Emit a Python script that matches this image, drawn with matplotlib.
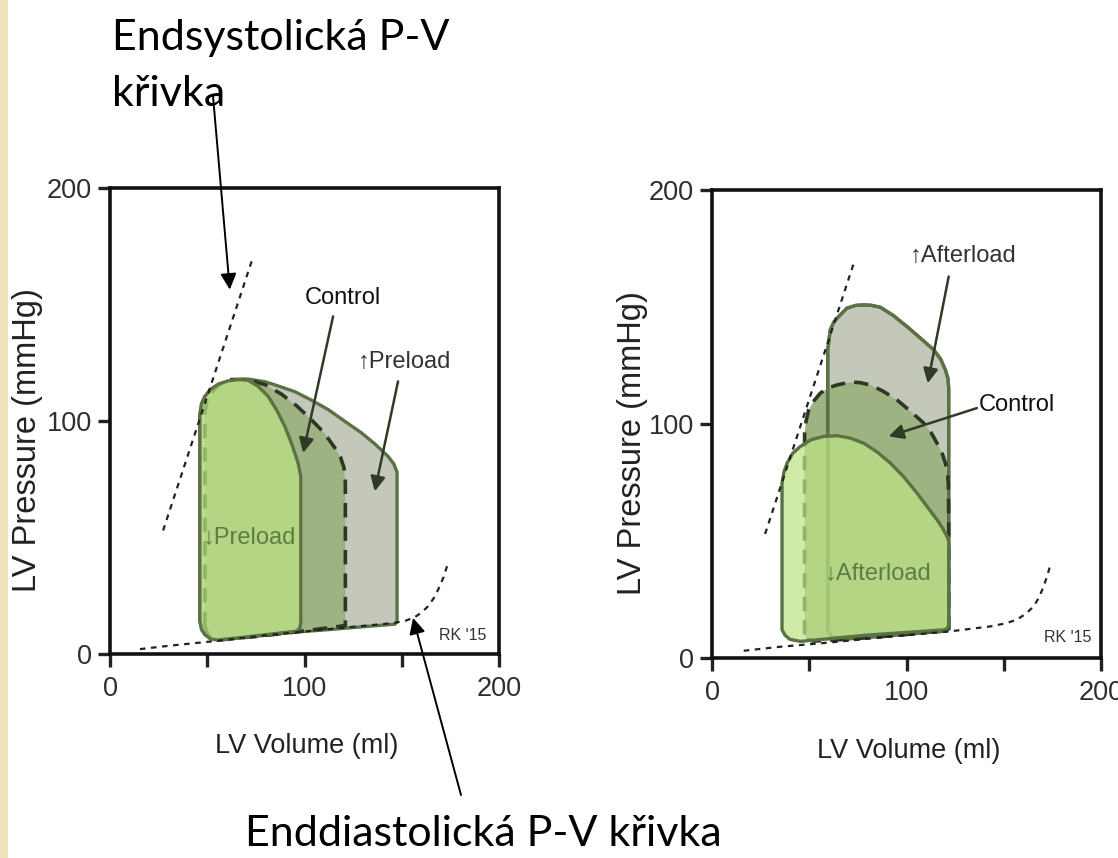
import matplotlib

matplotlib.use("Agg")
import matplotlib.pyplot as plt
from matplotlib.patches import Polygon, Rectangle

# ---- data (LV volume in ml, LV pressure in mmHg) ----
espvr_v = [27.3, 73.0]
espvr_p = [53.0, 169.0]

edpvr_left_v = [15.4, 30, 52.2, 80, 110, 146, 152, 156.7, 160.5, 163.5, 166.5, 168.7, 171.5, 173.8]
edpvr_left_p = [2.1, 3.5, 5.4, 8.0, 10.5, 13.3, 14.3, 15.8, 18.0, 20.5, 24.0, 27.6, 33.0, 39.0]

edpvr_right_v = [16.3, 35, 57.4, 90, 122.5, 143.1, 151, 156.8, 161.5, 165.4, 168.2, 170.5, 172.5, 174]
edpvr_right_p = [3.1, 4.8, 6.4, 9.0, 11.4, 13.5, 14.8, 16.4, 19.0, 22.1, 26.0, 30.6, 35.5, 39.9]

# preload panel loops
low_preload_v = [46.2, 46.2, 46.2, 47.0, 48.8, 51.5, 55.7, 60.5, 65.9, 71.0, 76.0, 81.3, 85.8,
                 89.9, 93.5, 96.7, 98.1, 98.1, 98.1, 97.5, 95.9, 75.0, 55.7, 51.5, 48.8, 47.0]
low_preload_p = [14.0, 60.0, 103.0, 107.5, 110.6, 113.5, 115.8, 117.2, 117.8, 117.5, 115.0, 110.6, 104.5,
                 97.7, 90.0, 82.0, 76.3, 40.0, 13.3, 11.0, 9.8, 7.8, 5.9, 6.5, 8.3, 10.5]

ctrl_preload_v = [48.8, 48.8, 50.0, 53.0, 57.0, 62.0, 71.0, 80.0, 88.2, 96.0, 103.6, 110.0, 115.6,
                  118.5, 120.3, 121.0, 121.0, 121.0, 110.0, 95.0, 75.0, 55.7, 50.5]
ctrl_preload_p = [12.0, 104.0, 109.0, 113.0, 116.0, 117.8, 117.8, 115.5, 111.5, 106.5, 100.5, 95.0, 88.5,
                  84.5, 80.0, 73.4, 40.0, 12.2, 11.0, 9.4, 7.5, 6.2, 8.0]

high_preload_v = [46.2, 46.2, 48.8, 55.7, 65.9, 71.0, 80.0, 88.0, 95.0, 103.0, 112.2, 120.0, 129.3,
                  136.0, 143.0, 146.0, 147.6, 147.6, 147.6, 146.5, 130.0, 110.0, 95.0, 75.0, 55.7, 48.8]
high_preload_p = [14.0, 103.0, 110.6, 115.8, 117.8, 118.0, 116.8, 114.6, 112.6, 109.2, 104.9, 100.3, 94.9,
                  90.3, 84.8, 81.5, 78.0, 40.0, 14.0, 12.8, 11.7, 10.3, 9.4, 7.6, 5.9, 8.3]

# afterload panel loops
high_after_v = [59.5, 59.5, 59.5, 60.8, 62.6, 65.1, 69.4, 74.0, 78.0, 82.0, 86.5, 93.0, 100.3, 107.0,
                114.0, 117.5, 120.0, 121.3, 121.7, 121.7, 121.7, 120.5, 100.0, 70.0, 64.0, 61.0]
high_after_p = [12.0, 60.0, 131.7, 140.2, 143.5, 145.9, 149.5, 150.7, 150.9, 150.7, 149.9, 146.5, 141.6, 136.8,
                131.7, 127.8, 123.1, 119.5, 115.0, 60.0, 12.8, 11.5, 10.2, 8.2, 8.0, 9.5]

ctrl_after_v = [47.6, 47.6, 47.6, 48.3, 49.7, 52.5, 55.7, 60.0, 64.3, 71.1, 76.0, 81.4, 88.0, 95.1,
                102.0, 108.8, 112.5, 115.7, 118.3, 120.0, 121.2, 121.5, 121.7, 121.7, 100.0, 70.0, 52.0, 48.5]
ctrl_after_p = [10.0, 60.0, 96.0, 101.0, 106.0, 110.0, 113.2, 115.5, 116.7, 117.9, 117.7, 116.7, 114.0, 110.3,
                105.5, 100.4, 96.5, 91.8, 87.5, 83.3, 78.0, 74.7, 60.0, 12.5, 10.0, 8.0, 7.2, 8.2]

low_after_v = [36.0, 36.0, 36.0, 37.0, 38.6, 41.5, 45.4, 51.0, 57.4, 64.3, 71.0, 78.0, 85.0, 91.7, 98.5,
               105.4, 110.8, 115.7, 118.5, 120.8, 121.7, 121.7, 121.0, 119.0, 80.0, 45.4, 40.0, 37.5]
low_after_p = [12.1, 50.0, 74.7, 79.5, 83.3, 87.5, 90.4, 93.3, 94.7, 95.0, 94.0, 91.8, 88.0, 83.3, 77.5,
               70.5, 64.5, 59.1, 55.5, 52.0, 50.0, 14.0, 12.5, 12.0, 9.8, 7.1, 8.0, 9.8]

x_ticks = [0, 50, 100, 150, 200]
x_tick_labels = ["0", "", "100", "", "200"]
y_ticks = [0, 100, 200]
y_tick_labels = ["0", "100", "200"]

# ---- styles ----
W, H = 1118, 858
SANS = ["Liberation Sans", "DejaVu Sans"]
SLIDE = ["Lato", "DejaVu Sans"]

outline = "#5b7344"
grey_fill = "#c3c8bb"
olive_fill = "#9fb282"
green_fill = "#bde486"
note_col = "#2e3b26"


def loop(ax, v, p, face, edge, ls="-", lw=2.4, alpha=1.0, z=2):
    ax.add_patch(Polygon(list(zip(v, p)), closed=True, facecolor=face, edgecolor="none",
                         alpha=alpha, zorder=z))
    ax.add_patch(Polygon(list(zip(v, p)), closed=True, facecolor="none", edgecolor=edge,
                         linestyle=ls, lw=lw, joinstyle="round", zorder=z + 0.5))


def setup(ax, ylab_x):
    ax.set_xlim(0, 200)
    ax.set_ylim(0, 200)
    for s in ax.spines.values():
        s.set_linewidth(2.6)
        s.set_color("#111111")
    ax.set_xticks(x_ticks)
    ax.set_xticklabels(x_tick_labels, family=SANS)
    ax.set_yticks(y_ticks)
    ax.set_yticklabels(y_tick_labels, family=SANS)
    ax.tick_params(direction="out", length=9, width=2.4, color="#222222",
                   labelsize=19.5, labelcolor="#2e2e2e")
    ax.tick_params(axis="x", pad=7)
    ax.tick_params(axis="y", pad=4)
    ax.set_xlabel("LV Volume (ml)", family=SANS, fontsize=19.5, color="#222222")
    ax.set_ylabel("LV Pressure (mmHg)", family=SANS, fontsize=23.5, color="#222222")
    ax.xaxis.set_label_coords(0.506, -0.17)
    ax.yaxis.set_label_coords(ylab_x, 0.46)
    ax.plot(espvr_v, espvr_p, color="#222222", lw=1.6, ls=(0, (2.5, 2.5)), zorder=5)


def note(ax, xy, xytext):
    ax.annotate("", xy=xy, xytext=xytext,
                arrowprops=dict(arrowstyle="-|>", color=note_col, lw=1.8, mutation_scale=22,
                                shrinkA=0, shrinkB=0), zorder=8)


fig = plt.figure(figsize=(W / 100, H / 100), dpi=100)
fig.patches.append(Rectangle((0, 0), 8 / W, 1, transform=fig.transFigure,
                             facecolor="#f1e2b9", edgecolor="none", zorder=0))

ax1 = fig.add_axes([110 / W, 1 - 654 / H, 389 / W, 466 / H])
ax2 = fig.add_axes([712 / W, 1 - 658 / H, 389 / W, 468 / H])

# ---- left: preload ----
setup(ax1, -0.172)
ax1.plot(edpvr_left_v, edpvr_left_p, color="#222222", lw=1.6, ls=(0, (2.5, 2.5)), zorder=5)
loop(ax1, high_preload_v, high_preload_p, grey_fill, outline, z=2)
loop(ax1, ctrl_preload_v, ctrl_preload_p, olive_fill, "#2b3824", ls=(0, (4, 2.5)), lw=2.6, z=3)
loop(ax1, low_preload_v, low_preload_p, green_fill, outline, alpha=0.72, z=4)

ax1.text(119.9, 152.8, "Control", family=SANS, fontsize=17, color="#111111",
         ha="center", va="center")
ax1.text(151.5, 125.2, "\u2191Preload", family=SANS, fontsize=17, color="#333333",
         ha="center", va="center")
ax1.text(71.9, 49.8, "\u2193Preload", family=SANS, fontsize=17, color="#5d7d45",
         ha="center", va="center", zorder=9)
ax1.text(181.5, 7.9, "RK '15", family=SANS, fontsize=11.5, color="#333333",
         ha="center", va="center")
note(ax1, (99.3, 86.3), (114.7, 144.9))
note(ax1, (136.1, 69.8), (148.1, 117.0))

# ---- right: afterload ----
setup(ax2, -0.165)
ax2.plot(edpvr_right_v, edpvr_right_p, color="#222222", lw=1.6, ls=(0, (2.5, 2.5)), zorder=5)
loop(ax2, high_after_v, high_after_p, grey_fill, outline, z=2)
ax2.add_patch(Polygon(list(zip(ctrl_after_v, ctrl_after_p)), closed=True, facecolor=olive_fill,
                      edgecolor="none", zorder=2.2))
ax2.add_patch(Polygon(list(zip(high_after_v, high_after_p)), closed=True, facecolor="none",
                      edgecolor=outline, lw=2.4, zorder=2.4))
ax2.add_patch(Polygon(list(zip(ctrl_after_v, ctrl_after_p)), closed=True, facecolor="none",
                      edgecolor="#2b3824", ls=(0, (4, 2.5)), lw=2.6, zorder=3.5))
loop(ax2, low_after_v, low_after_p, green_fill, outline, alpha=0.72, z=4)

ax2.text(129.4, 171.8, "\u2191Afterload", family=SANS, fontsize=17, color="#333333",
         ha="center", va="center")
ax2.text(156.8, 108.2, "Control", family=SANS, fontsize=17, color="#111111",
         ha="center", va="center")
ax2.text(85.7, 36.0, "\u2193Afterload", family=SANS, fontsize=17, color="#5d7d45",
         ha="center", va="center", zorder=9)
ax2.text(182.9, 8.8, "RK '15", family=SANS, fontsize=11.5, color="#333333",
         ha="center", va="center")
note(ax2, (110.9, 117.4), (121.7, 163.0))
note(ax2, (90.8, 94.7), (136.2, 106.8))

# ---- slide annotations ----
fig.text(112 / W, 1 - 50 / H, "Endsystolická P-V", family=SLIDE, fontsize=31, color="black",
         ha="left", va="baseline")
fig.text(112 / W, 1 - 106 / H, "křivka", family=SLIDE, fontsize=31, color="black",
         ha="left", va="baseline")
fig.text(245 / W, 1 - 846 / H, "Enddiastolická P-V křivka", family=SLIDE, fontsize=31,
         color="black", ha="left", va="baseline")

ax1.annotate("", xy=(61.6, 156.4), xycoords="data", xytext=(213 / W, 1 - 96 / H),
             textcoords="figure fraction", annotation_clip=False,
             arrowprops=dict(arrowstyle="-|>", color="black", lw=1.4, mutation_scale=24,
                             shrinkA=0, shrinkB=0), zorder=10)
ax1.annotate("", xy=(155.8, 15.5), xycoords="data", xytext=(461 / W, 1 - 795 / H),
             textcoords="figure fraction", annotation_clip=False,
             arrowprops=dict(arrowstyle="-|>", color="black", lw=1.4, mutation_scale=24,
                             shrinkA=0, shrinkB=0), zorder=10)

fig.savefig("out.png", dpi=100)
